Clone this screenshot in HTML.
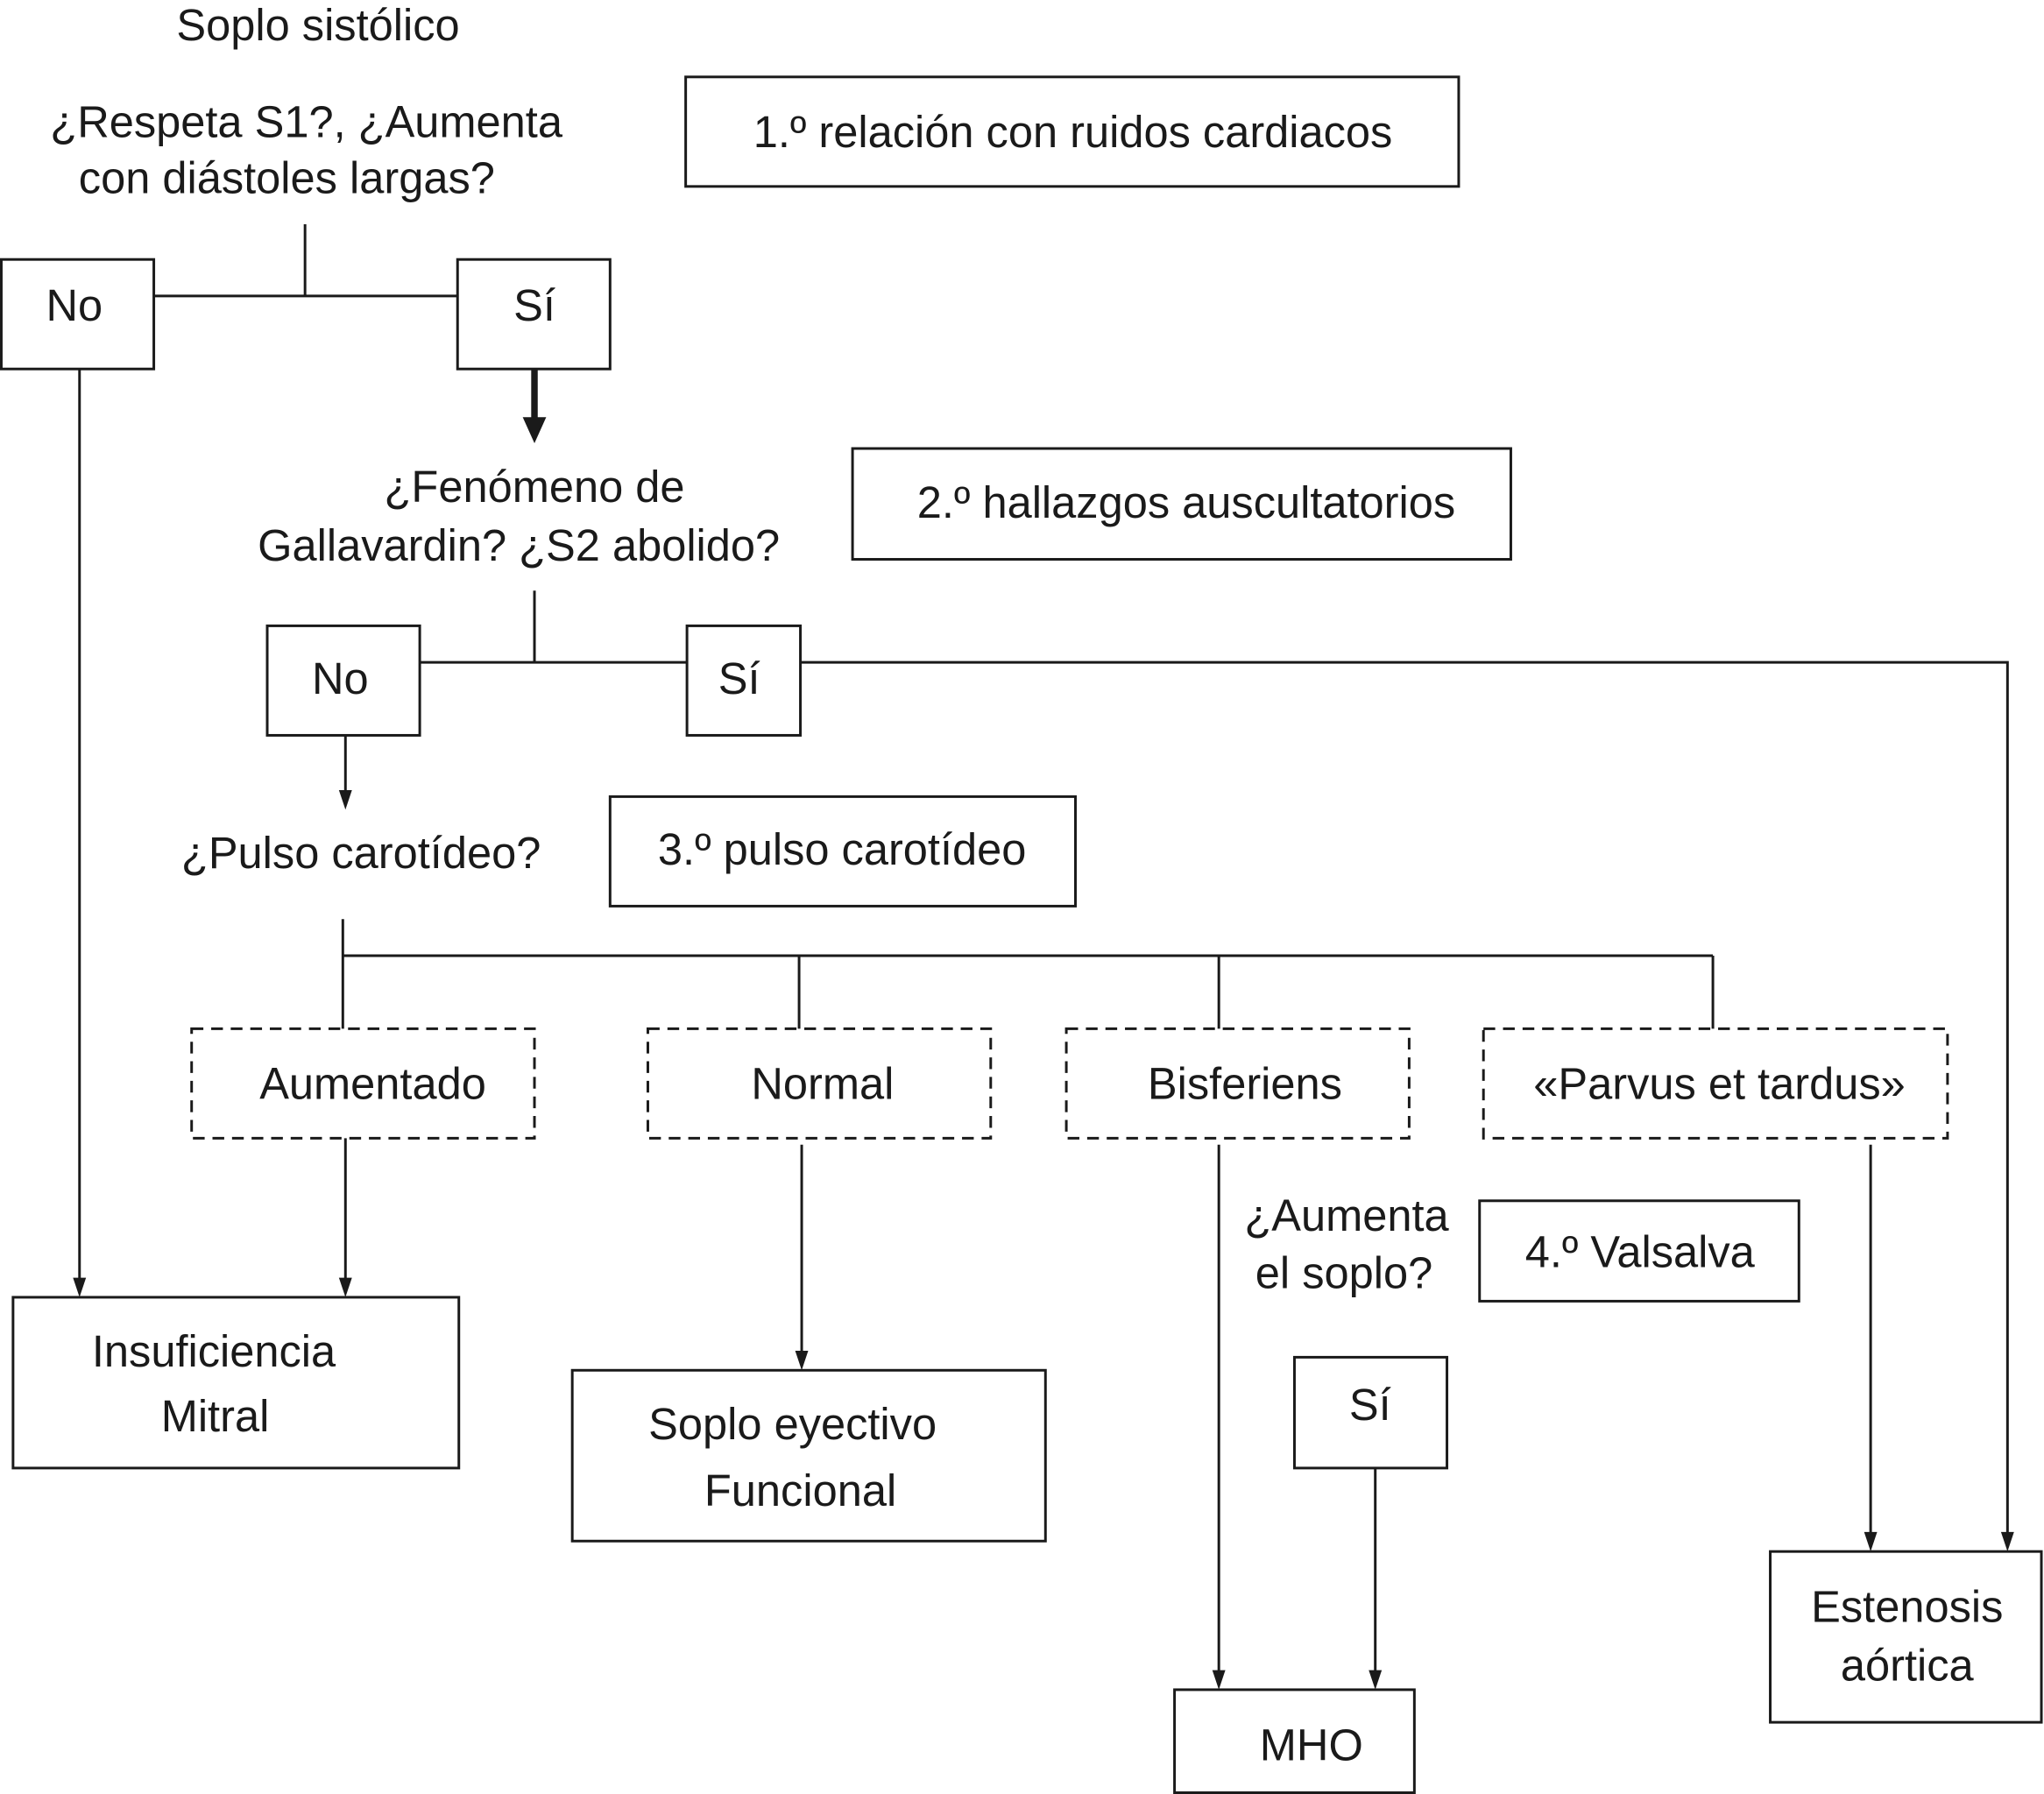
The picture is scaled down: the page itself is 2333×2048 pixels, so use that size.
<!DOCTYPE html>
<html><head><meta charset="utf-8"><style>
html,body{margin:0;padding:0;background:#fff;}
svg{display:block;}
text{font-family:"Liberation Sans",Arial,sans-serif;font-size:34px;fill:#1a1a1a;text-anchor:middle;}
</style></head><body>
<svg width="2333" height="2048" viewBox="0 0 1568 1376" preserveAspectRatio="none" xmlns="http://www.w3.org/2000/svg">
<defs>
<marker id="a" markerWidth="10" markerHeight="16" refX="5" refY="15" orient="auto" markerUnits="userSpaceOnUse" viewBox="0 0 10 16"><path d="M0,0 L10,0 L5,16 z" fill="#1a1a1a" transform="rotate(-90 5 8) translate(0 0)"/></marker>
</defs>
<g stroke="#1a1a1a" stroke-width="2" fill="none">
<rect x="526" y="59" width="593" height="84"/>
<line x1="234" y1="172" x2="234" y2="227"/>
<line x1="118" y1="227" x2="351" y2="227"/>
<rect x="1" y="199" width="117" height="84"/>
<rect x="351" y="199" width="117" height="84"/>
<line x1="410" y1="283" x2="410" y2="322" stroke-width="5"/>
<line x1="61" y1="283" x2="61" y2="982"/>
<rect x="654" y="344" width="505" height="85"/>
<line x1="410" y1="453" x2="410" y2="508"/>
<line x1="322" y1="508" x2="527" y2="508"/>
<rect x="205" y="480" width="117" height="84"/>
<rect x="527" y="480" width="87" height="84"/>
<polyline points="614,508 1540,508 1540,1177"/>
<line x1="265" y1="564" x2="265" y2="608"/>
<rect x="468" y="611" width="357" height="84"/>
<line x1="263" y1="705" x2="263" y2="789"/>
<line x1="263" y1="733" x2="1314" y2="733"/>
<line x1="613" y1="733" x2="613" y2="789"/>
<line x1="935" y1="733" x2="935" y2="789"/>
<line x1="1314" y1="733" x2="1314" y2="789"/>
<g stroke-dasharray="9,6">
<rect x="147" y="789" width="263" height="84"/>
<rect x="497" y="789" width="263" height="84"/>
<rect x="818" y="789" width="263" height="84"/>
<rect x="1138" y="789" width="356" height="84"/>
</g>
<line x1="265" y1="873" x2="265" y2="982"/>
<rect x="10" y="995" width="342" height="131"/>
<line x1="615" y1="878" x2="615" y2="1038"/>
<rect x="439" y="1051" width="363" height="131"/>
<line x1="935" y1="878" x2="935" y2="1283"/>
<rect x="1135" y="921" width="245" height="77"/>
<rect x="993" y="1041" width="117" height="85"/>
<line x1="1055" y1="1126" x2="1055" y2="1283"/>
<rect x="901" y="1296" width="184" height="79"/>
<line x1="1435" y1="878" x2="1435" y2="1177"/>
<rect x="1358" y="1190" width="208" height="131"/>
</g>
<g fill="#1a1a1a">
<polygon points="401,320 419,320 410,340"/>
<polygon points="56,980 66,980 61,995"/>
<polygon points="260,980 270,980 265,995"/>
<polygon points="260,606 270,606 265,621"/>
<polygon points="610,1036 620,1036 615,1051"/>
<polygon points="930,1281 940,1281 935,1296"/>
<polygon points="1050,1281 1060,1281 1055,1296"/>
<polygon points="1430,1175 1440,1175 1435,1190"/>
<polygon points="1535,1175 1545,1175 1540,1190"/>
</g>
<text x="244" y="31">Soplo sistólico</text>
<text x="235" y="105">¿Respeta S1?, ¿Aumenta</text>
<text x="220" y="148">con diástoles largas?</text>
<text x="823" y="113">1.º  relación con ruidos cardiacos</text>
<text x="57" y="246">No</text>
<text x="410" y="246">Sí</text>
<text x="410" y="385">¿Fenómeno de</text>
<text x="398" y="430">Gallavardin? ¿S2 abolido?</text>
<text x="910" y="397">2.º hallazgos auscultatorios</text>
<text x="261" y="532">No</text>
<text x="567" y="532">Sí</text>
<text x="277" y="666">¿Pulso carotídeo?</text>
<text x="646" y="663">3.º pulso carotídeo</text>
<text x="286" y="843">Aumentado</text>
<text x="631" y="843">Normal</text>
<text x="955" y="843">Bisferiens</text>
<text x="1319" y="843">«Parvus et tardus»</text>
<text x="164" y="1048">Insuficiencia</text>
<text x="165" y="1098">Mitral</text>
<text x="608" y="1104">Soplo eyectivo</text>
<text x="614" y="1155">Funcional</text>
<text x="1033" y="944">¿Aumenta</text>
<text x="1031" y="988">el soplo?</text>
<text x="1258" y="972">4.º Valsalva</text>
<text x="1051" y="1089">Sí</text>
<text x="1006" y="1350">MHO</text>
<text x="1463" y="1244">Estenosis</text>
<text x="1463" y="1289">aórtica</text>
</svg>
</body></html>
